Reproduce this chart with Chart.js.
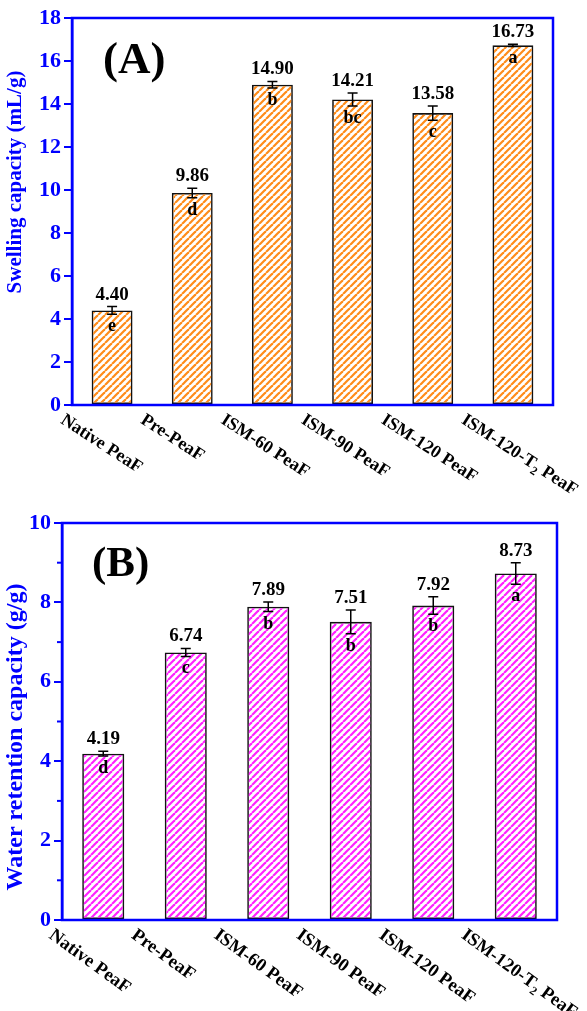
<!DOCTYPE html>
<html>
<head>
<meta charset="utf-8">
<script src="https://cdn.jsdelivr.net/npm/chart.js@4.4.1/dist/chart.umd.min.js"></script>
<style>
  html, body { margin: 0; padding: 0; background: #fff; }
  canvas { display: block; }
</style>
</head>
<body>
<canvas id="chartA" width="587" height="505"></canvas>
<canvas id="chartB" width="587" height="506"></canvas>
<script>
// Values (mean, SD, Duncan letters).
const categories = ['Native PeaF', 'Pre-PeaF', 'ISM-60 PeaF', 'ISM-90 PeaF', 'ISM-120 PeaF', 'ISM-120-T₂ PeaF'];

const swelling = [4.40, 9.86, 14.90, 14.21, 13.58, 16.73];
const swellingSD = [0.18, 0.22, 0.15, 0.30, 0.33, 0.05];
const swellingLetters = ['e', 'd', 'b', 'bc', 'c', 'a'];
const swellingTicks = { min: 0, max: 18, step: 2 };

const retention = [4.19, 6.74, 7.89, 7.51, 7.92, 8.73];
const retentionSD = [0.06, 0.10, 0.12, 0.30, 0.22, 0.27];
const retentionLetters = ['d', 'c', 'b', 'b', 'b', 'a'];
const retentionTicks = { min: 0, max: 10, step: 2 };

const SERIF = '"Liberation Serif", "Times New Roman", serif';
const BLUE = '#0000ff';

// diagonal "/" hatch used as bar fill
function hatch(color){
  const c = document.createElement('canvas');
  c.width = c.height = 7;
  const g = c.getContext('2d');
  g.strokeStyle = color;
  g.lineWidth = 2.2;
  for (const k of [-7, 0, 7]) {
    g.beginPath(); g.moveTo(k, 7); g.lineTo(k + 7, 0); g.stroke();
  }
  return g.createPattern(c, 'repeat');
}

function panelPlugin(p){
  return {
    id: 'panel' + p.tag,
    afterDatasetsDraw(chart){
      const ctx = chart.ctx, y = chart.scales.y;
      const meta = chart.getDatasetMeta(0);
      ctx.save();
      ctx.strokeStyle = '#000';
      ctx.lineWidth = 1.5;
      ctx.fillStyle = '#000';
      ctx.textAlign = 'center';
      ctx.textBaseline = 'alphabetic';
      p.values.forEach((v, i) => {
        const cx = meta.data[i].x;
        const yt = y.getPixelForValue(v + p.sd[i]);
        const yb = y.getPixelForValue(v - p.sd[i]);
        ctx.beginPath();
        ctx.moveTo(cx, yt); ctx.lineTo(cx, yb);
        ctx.moveTo(cx - 5, yt); ctx.lineTo(cx + 5, yt);
        ctx.moveTo(cx - 5, yb); ctx.lineTo(cx + 5, yb);
        ctx.stroke();
        ctx.font = 'bold 19px ' + SERIF;
        ctx.fillText(v.toFixed(2), cx, yt - 7);
        ctx.font = 'bold 18px ' + SERIF;
        ctx.fillText(p.letters[i], cx, yb + 17);
      });
      ctx.restore();
    },
    afterDraw(chart){
      const ctx = chart.ctx, a = chart.chartArea;
      const x = chart.scales.x, y = chart.scales.y;
      ctx.save();
      // blue frame
      ctx.strokeStyle = BLUE;
      ctx.lineWidth = 2.5;
      ctx.strokeRect(a.left, a.top, a.right - a.left, a.bottom - a.top);
      // minor ticks (odd values) where the panel has them
      if (p.minor) {
        ctx.lineWidth = 2;
        for (let v = p.ticks.min + 1; v < p.ticks.max; v += 2) {
          const yy = y.getPixelForValue(v);
          ctx.beginPath(); ctx.moveTo(a.left - 5, yy); ctx.lineTo(a.left, yy); ctx.stroke();
        }
      }
      // rotated category labels, with subscript 2
      ctx.fillStyle = '#000';
      ctx.textAlign = 'left';
      ctx.textBaseline = 'top';
      categories.forEach((lab, i) => {
        const cx = x.getPixelForValue(i);
        ctx.save();
        ctx.translate(cx - p.labelShift, a.bottom + 6);
        ctx.rotate(p.labelAngle * Math.PI / 180);
        const parts = lab.split('₂');
        let xo = 0;
        parts.forEach((s, j) => {
          ctx.font = 'bold ' + p.labelSize + 'px ' + SERIF;
          ctx.fillText(s, xo, 0);
          xo += ctx.measureText(s).width;
          if (j < parts.length - 1) {
            ctx.font = 'bold ' + Math.round(p.labelSize * 0.65) + 'px ' + SERIF;
            ctx.fillText('2', xo, p.labelSize * 0.5);
            xo += ctx.measureText('2').width;
          }
        });
        ctx.restore();
      });
      // y axis title
      ctx.save();
      ctx.translate(p.titleX, p.titleY);
      ctx.rotate(-Math.PI / 2);
      ctx.textAlign = 'center';
      ctx.textBaseline = 'middle';
      ctx.fillStyle = BLUE;
      ctx.font = 'bold ' + p.titleSize + 'px ' + SERIF;
      ctx.fillText(p.title, 0, 0);
      ctx.restore();
      // panel letter
      ctx.fillStyle = '#000';
      ctx.textAlign = 'left';
      ctx.textBaseline = 'middle';
      ctx.font = 'bold ' + p.tagSize + 'px ' + SERIF;
      ctx.fillText('(' + p.tag + ')', p.tagX, p.tagY);
      ctx.restore();
    }
  };
}

function drawPanel(canvasId, p){
  const el = document.getElementById(canvasId);
  return new Chart(el, {
    type: 'bar',
    data: {
      labels: categories,
      datasets: [{
        data: p.values,
        backgroundColor: hatch(p.color),
        borderColor: '#111',
        borderWidth: 1.6,
        borderSkipped: false,
        barPercentage: 0.51,
        categoryPercentage: 1
      }]
    },
    options: {
      responsive: false,
      animation: false,
      devicePixelRatio: 1,
      layout: { padding: { top: p.padTop, right: p.padRight, left: 0, bottom: 0 } },
      plugins: { legend: { display: false }, tooltip: { enabled: false } },
      scales: {
        x: {
          ticks: { display: false },
          grid: { display: false },
          border: { display: false },
          afterFit: s => { s.height = p.xHeight; }
        },
        y: {
          min: p.ticks.min, max: p.ticks.max,
          ticks: {
            stepSize: p.ticks.step, color: BLUE, padding: 3,
            font: { family: SERIF, size: 22, weight: 'bold' }
          },
          grid: { drawOnChartArea: false, drawTicks: true, tickLength: 8, color: BLUE, lineWidth: 2 },
          border: { color: BLUE, width: 2.5 },
          afterFit: s => { s.width = p.yWidth; }
        }
      }
    },
    plugins: [panelPlugin(p)]
  });
}

drawPanel('chartA', {
  tag: 'A', values: swelling, sd: swellingSD, letters: swellingLetters, ticks: swellingTicks,
  color: '#ff8c1a', minor: false,
  padTop: 18, padRight: 34, xHeight: 100, yWidth: 72,
  labelAngle: 33, labelSize: 18, labelShift: 45,
  title: 'Swelling capacity (mL/g)', titleX: 16, titleY: 182, titleSize: 21,
  tagX: 103, tagY: 61, tagSize: 45
});

drawPanel('chartB', {
  tag: 'B', values: retention, sd: retentionSD, letters: retentionLetters, ticks: retentionTicks,
  color: '#ff22ff', minor: true,
  padTop: 18, padRight: 30, xHeight: 91, yWidth: 62,
  labelAngle: 36, labelSize: 18.5, labelShift: 47,
  title: 'Water retention capacity (g/g)', titleX: 16, titleY: 232, titleSize: 24,
  tagX: 92, tagY: 60, tagSize: 43
});
</script>
</body>
</html>
